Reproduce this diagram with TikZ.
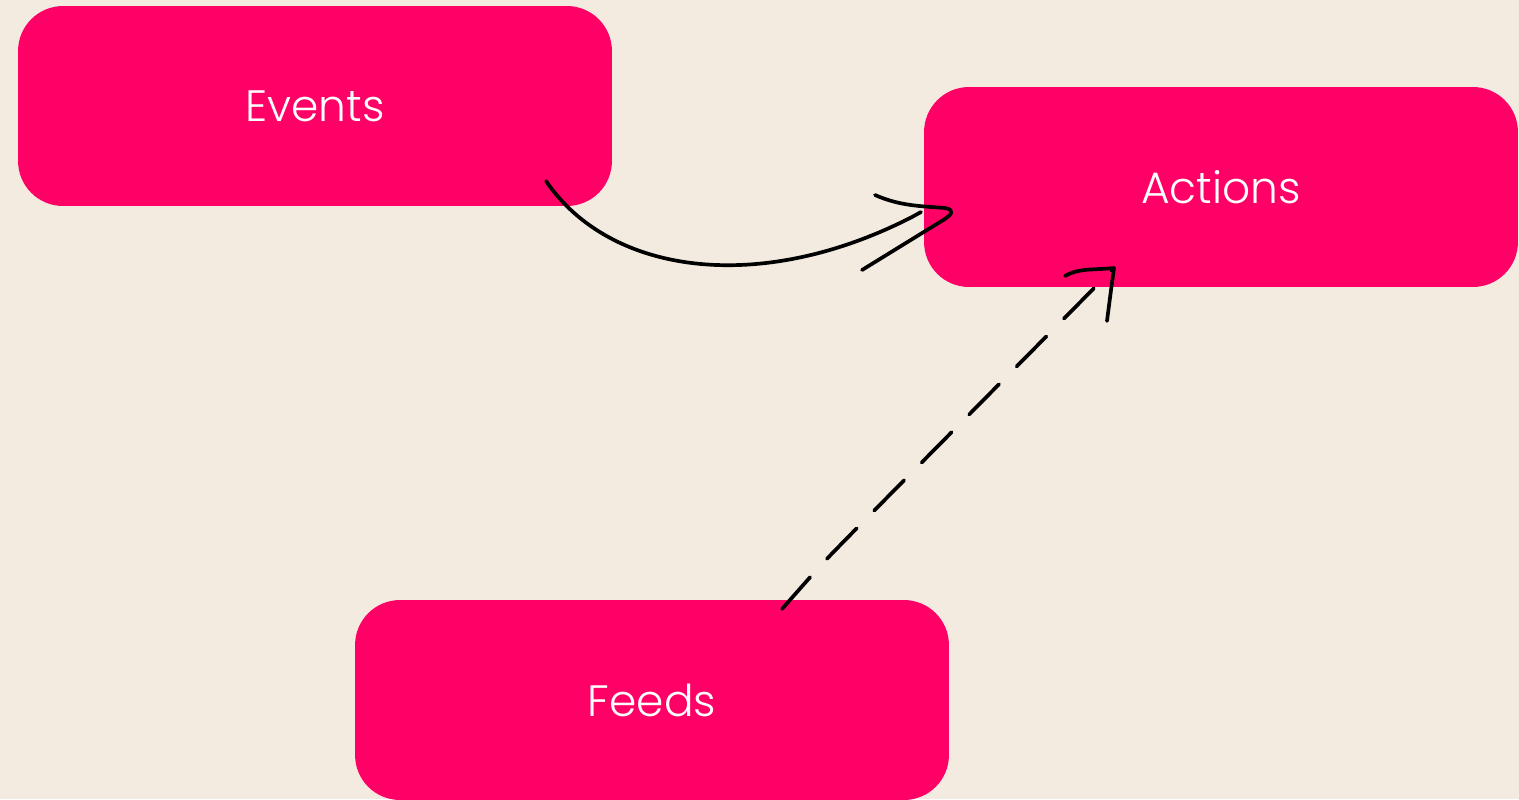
\documentclass[tikz,border=0pt]{standalone}
\usepackage{fontspec}
\setmainfont{Poppins Light}
\definecolor{pagebg}{HTML}{F3EAE0}
\definecolor{boxpink}{HTML}{FF0066}
\begin{document}
\begin{tikzpicture}[x=0.02cm, y=-0.02cm,
	every node/.style={rectangle, rounded corners=0.9cm, fill=boxpink, text=white, minimum width=11.88cm, minimum height=4cm, align=center, font=\fontsize{25}{30}\selectfont},
	pen/.style={line width=2.1pt, line cap=round, line join=round}]
	\fill[pagebg] (0,0) rectangle (1519,799);
	\useasboundingbox (0,0) rectangle (1519,799);
	\node (events) at (315,106) {Events};
	\node (actions) at (1221,187) {Actions};
	\node (feeds) at (652,700) {Feeds};
	% Arrows
	\coordinate (evout) at (546,181);
	\coordinate (acin) at (921,212);
	\coordinate (fdout) at (782,609);
	\coordinate (actip) at (1112,270);
	\draw[pen] (evout) .. controls (610,275) and (760,295) .. (912,217) .. controls (917,215) .. (acin);
	\draw[pen] (875,195) .. controls (900,206) and (920,206) .. (945,208) .. controls (956,210) and (952,215) .. (940,222) -- (862,270);
	\draw[pen, dash pattern=on 0.85cm off 0.5cm] (fdout) -- (820,566) .. controls (845,540) .. (actip);
	\draw[pen] (1065,276) .. controls (1078,268) and (1095,270) .. (1114,268) .. controls (1111,290) .. (1107,321);
\end{tikzpicture}
\end{document}
